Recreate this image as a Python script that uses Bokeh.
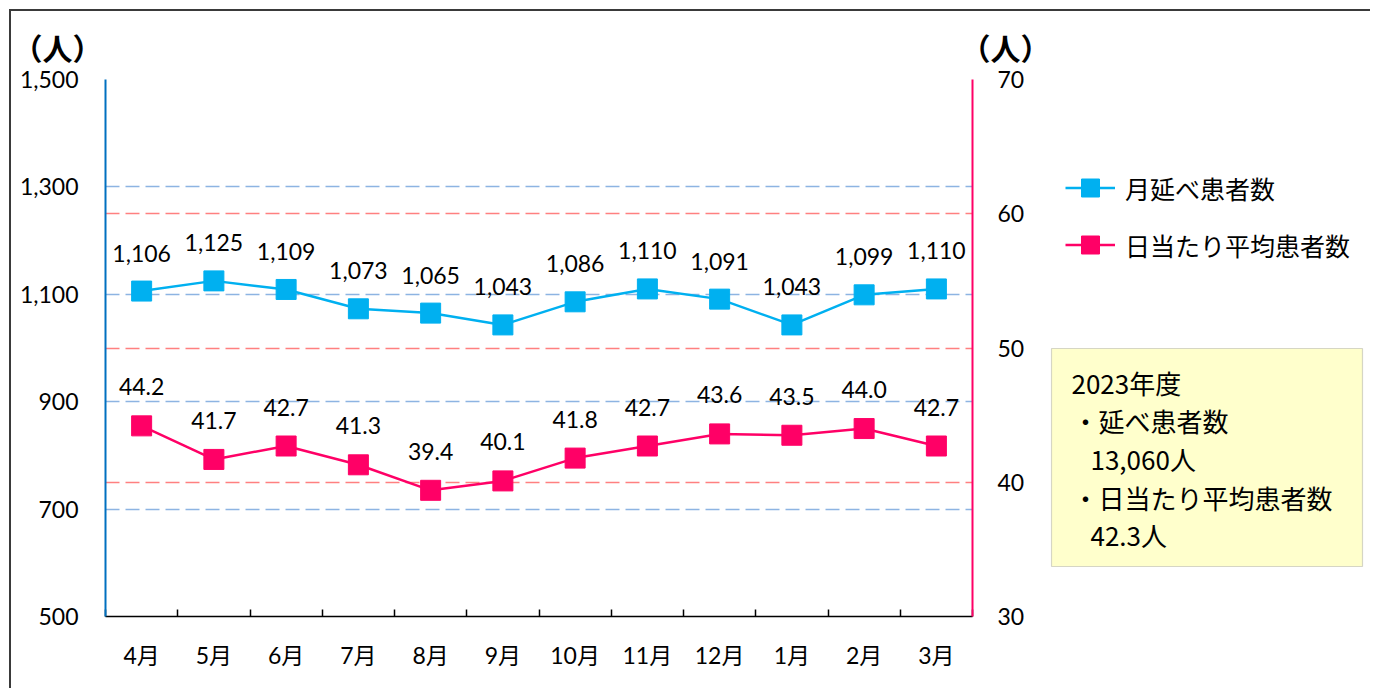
import numpy as np
from bokeh.plotting import figure
from bokeh.layouts import row
from bokeh.models import (Range1d, LinearAxis, FixedTicker, Grid, ColumnDataSource,
                          LabelSet, Label, Legend, LegendItem, BoxAnnotation)
from bokeh.core.properties import value
from bokeh.embed import file_html
from bokeh.resources import INLINE

# ---------------- data ----------------
months = ["4月", "5月", "6月", "7月", "8月", "9月", "10月", "11月", "12月", "1月", "2月", "3月"]
total_patients = [1106, 1125, 1109, 1073, 1065, 1043, 1086, 1110, 1091, 1043, 1099, 1110]
daily_avg = [44.2, 41.7, 42.7, 41.3, 39.4, 40.1, 41.8, 42.7, 43.6, 43.5, 44.0, 42.7]
left_ticks = [500, 700, 900, 1100, 1300, 1500]
right_ticks = [30, 40, 50, 60, 70]
series_names = ["月延べ患者数", "日当たり平均患者数"]
unit_label = "（人）"
summary_lines = ["2023年度", "・延べ患者数", "13,060人", "・日当たり平均患者数", "42.3人"]

# ---------------- styles / layout (pixels) ----------------
BLUE = "#00B0F0"
PINK = "#FF0066"
NUM_FONT = "Lato, 'Noto Sans CJK JP'"
JP_FONT = "'Noto Sans CJK JP'"
FS = "23px"
FRAME_L, FRAME_T, FRAME_R, FRAME_B = 105, 79, 972, 616
MAIN_W, H, TOTAL_W = 1050, 688, 1370
BORDER = "#3a3a3a"
DASH = "14 6"

xs = list(range(1, len(months) + 1))
src = ColumnDataSource(dict(
    x=xs,
    total=total_patients,
    avg=daily_avg,
    total_txt=[f"{v:,}" for v in total_patients],
    avg_txt=[f"{v:.1f}" for v in daily_avg],
))

p = figure(width=MAIN_W, height=H,
           x_range=Range1d(0.5, len(months) + 0.5),
           y_range=Range1d(left_ticks[0], left_ticks[-1]),
           output_backend="svg", toolbar_location=None,
           min_border_left=FRAME_L, min_border_right=MAIN_W - FRAME_R,
           min_border_top=FRAME_T, min_border_bottom=H - FRAME_B)
p.extra_y_ranges = {"right": Range1d(right_ticks[0], right_ticks[-1])}
p.outline_line_color = None
p.background_fill_color = "white"
p.border_fill_alpha = 0
p.stylesheets = [":host { background: "
                 f"linear-gradient({BORDER},{BORDER}) 9px 9px / 2px calc(100% - 9px) no-repeat, "
                 f"linear-gradient({BORDER},{BORDER}) 9px 9px / calc(100% - 9px) 2px no-repeat; }}"]

# x axis
xa = p.xaxis[0]
xa.ticker = FixedTicker(ticks=xs, minor_ticks=[x - 0.5 for x in xs] + [xs[-1] + 0.5])
xa.major_label_overrides = {x: m for x, m in zip(xs, months)}
xa.major_tick_in = 0
xa.major_tick_out = 0
xa.minor_tick_in = 7
xa.minor_tick_out = 0
xa.minor_tick_line_color = "black"
xa.minor_tick_line_width = 1.5
xa.axis_line_color = "black"
xa.axis_line_width = 1.5
xa.major_label_text_font = NUM_FONT
xa.major_label_text_font_size = FS
xa.major_label_text_color = "black"
xa.major_label_standoff = 24

# left y axis
ya = p.yaxis[0]
ya.ticker = FixedTicker(ticks=left_ticks)
ya.major_label_overrides = {t: f"{t:,}" for t in left_ticks}
ya.major_tick_in = 0
ya.major_tick_out = 0
ya.minor_tick_line_color = None
ya.axis_line_color = "#0070C0"
ya.axis_line_width = 2
ya.major_label_text_font = NUM_FONT
ya.major_label_text_font_size = FS
ya.major_label_text_color = "black"
ya.major_label_standoff = 27

# right y axis
ra = LinearAxis(y_range_name="right", ticker=FixedTicker(ticks=right_ticks))
ra.major_tick_in = 0
ra.major_tick_out = 0
ra.minor_tick_line_color = None
ra.axis_line_color = PINK
ra.axis_line_width = 2
ra.major_label_text_font = NUM_FONT
ra.major_label_text_font_size = FS
ra.major_label_text_color = "black"
ra.major_label_standoff = 25
p.add_layout(ra, "right")

# grids
p.xgrid.visible = False
p.ygrid.ticker = FixedTicker(ticks=left_ticks[1:-1])
p.ygrid.grid_line_color = "#8DB4E2"
p.ygrid.grid_line_dash = DASH
p.ygrid.grid_line_width = 1.5
p.add_layout(Grid(dimension=1, y_range_name="right", ticker=FixedTicker(ticks=right_ticks[1:-1]),
                  grid_line_color="#FF8080", grid_line_dash=DASH, grid_line_width=1.5))
# top gridline where both scales' top gridlines coincide
p.add_layout(Grid(dimension=1, ticker=FixedTicker(ticks=left_ticks[-1:]), level="annotation",
                  grid_line_color="#E3E3E3", grid_line_width=2))
p.add_layout(Grid(dimension=1, ticker=FixedTicker(ticks=left_ticks[-1:]), level="annotation",
                  grid_line_color="#C9BACB", grid_line_dash="16 6", grid_line_width=2))

# series
l1 = p.line("x", "total", source=src, color=BLUE, line_width=2.5)
s1 = p.scatter("x", "total", source=src, marker="square", size=20, color=BLUE)
l2 = p.line("x", "avg", source=src, color=PINK, line_width=2.5, y_range_name="right")
s2 = p.scatter("x", "avg", source=src, marker="square", size=20, color=PINK, y_range_name="right")

p.add_layout(LabelSet(x="x", y="total", text="total_txt", source=src, y_offset=38,
                      text_align="center", text_baseline="middle",
                      text_font=value(NUM_FONT), text_font_size=FS, text_color="black"))
p.add_layout(LabelSet(x="x", y="avg", text="avg_txt", source=src, y_offset=39,
                      y_range_name="right",
                      text_align="center", text_baseline="middle",
                      text_font=value(NUM_FONT), text_font_size=FS, text_color="black"))

# unit titles "（人）": text glyphs anchored inside the frame, shifted in pixels, drawn unclipped
anchor_y = left_ticks[-2]
anchor_sy = FRAME_B - (anchor_y - left_ticks[0]) / (left_ticks[-1] - left_ticks[0]) * (FRAME_B - FRAME_T)
step = (FRAME_R - FRAME_L) / len(months)
anchor_sx = [FRAME_L + step * 0.5, FRAME_R - step * 0.5]
title_sx = [57, 1005]
title_sy = 47
p.text(x=[xs[0], xs[-1]], y=[anchor_y, anchor_y], text=[unit_label, unit_label],
       x_offset=[t - a for t, a in zip(title_sx, anchor_sx)],
       y_offset=[title_sy - anchor_sy] * 2,
       text_align="center", text_baseline="middle",
       text_font=value(JP_FONT), text_font_size="30px", text_font_style="bold",
       text_color="black", level="overlay")

# ---------------- right-hand panel: legend + summary box ----------------
RW = TOTAL_W - MAIN_W
p2 = figure(width=RW, height=H, output_backend="svg", toolbar_location=None,
            x_axis_location=None, y_axis_location=None,
            min_border_left=0, min_border_right=0,
            min_border_top=FRAME_T, min_border_bottom=H - FRAME_B,
            x_range=Range1d(0, 1), y_range=Range1d(0, 1))
p2.xgrid.visible = False
p2.ygrid.visible = False
p2.outline_line_color = None
p2.background_fill_alpha = 0
p2.border_fill_alpha = 0
p2.stylesheets = [":host { background: "
                  f"linear-gradient({BORDER},{BORDER}) 0px 9px / 100% 2px no-repeat; }}"]

# legend keys: renderers kept outside the visible range of this panel
off = dict(x=[-5, -4], y=[-5, -5])
d1l = p2.line(x=off["x"], y=off["y"], color=BLUE, line_width=2.5)
d1s = p2.scatter(x=off["x"][:1], y=off["y"][:1], marker="square", size=20, color=BLUE)
d2l = p2.line(x=off["x"], y=off["y"], color=PINK, line_width=2.5)
d2s = p2.scatter(x=off["x"][:1], y=off["y"][:1], marker="square", size=20, color=PINK)
legend = Legend(items=[LegendItem(label=series_names[0], renderers=[d1l, d1s]),
                       LegendItem(label=series_names[1], renderers=[d2l, d2s])],
                location=(1065 - MAIN_W, FRAME_B - 267), orientation="vertical",
                label_text_font=JP_FONT, label_text_font_size="25px", label_text_color="black",
                glyph_width=50, glyph_height=45, label_height=45, spacing=12,
                padding=0, margin=0, label_standoff=10,
                border_line_color=None, background_fill_alpha=0)
p2.add_layout(legend)

p2.add_layout(BoxAnnotation(left=1051 - MAIN_W, right=1362 - MAIN_W,
                            top=FRAME_B - 348, bottom=FRAME_B - 566,
                            left_units="screen", right_units="screen",
                            top_units="screen", bottom_units="screen",
                            fill_color="#FFFFCC", fill_alpha=1,
                            line_color="#767676", line_width=1.2))
line_x = [1071, 1072, 1090, 1072, 1090]
line_y = [382, 420, 458, 497, 534]
for t, lx, ly in zip(summary_lines, line_x, line_y):
    p2.add_layout(Label(x=lx - MAIN_W, y=FRAME_B - ly, x_units="screen", y_units="screen",
                        text=t, text_align="left", text_baseline="middle",
                        text_font=JP_FONT, text_font_size="26px", text_color="black"))

layout = row(p, p2, spacing=0)
open("out.html", "w").write(file_html(layout, INLINE))
